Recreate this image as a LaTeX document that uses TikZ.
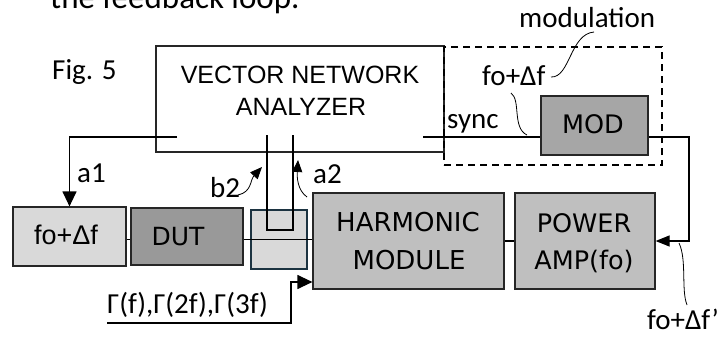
\documentclass[tikz,border=0pt]{standalone}
\usepackage{fontspec}
\setmainfont{Carlito}
\newfontfamily\boxfont{Liberation Sans}
\newfontfamily\wideboxfont{DejaVu Sans}
\usetikzlibrary{arrows.meta}
\definecolor{lightbox}{HTML}{D9D9D9}
\definecolor{midbox}{HTML}{BFBFBF}
\definecolor{modbox}{HTML}{A6A6A6}
\definecolor{dutbox}{HTML}{999999}
\definecolor{cplborder}{HTML}{1C3341}
\tikzset{
  blk/.style={draw=black!85, line width=1.2pt, inner sep=0pt},
  wire/.style={line width=1.2pt},
  leader/.style={line width=0.8pt},
  lbl/.style={inner sep=0pt, anchor=base west, font=\fontsize{29}{33}\selectfont},
  btxt/.style={inner sep=0pt, anchor=base, font=\boxfont\fontsize{26}{30}\selectfont},
  wtxt/.style={inner sep=0pt, anchor=base, font=\wideboxfont\fontsize{25.5}{30}\selectfont},
  bigtip/.style={-{Triangle[length=15pt,width=14pt]}},
  midtip/.style={-{Triangle[length=14pt,width=11pt]}},
  smalltip/.style={-{Triangle[length=12pt,width=10pt]}}
}
\begin{document}
\begin{tikzpicture}[x=1pt,y=-1pt]
\useasboundingbox (0,0) rectangle (728,337);
\clip (0,0) rectangle (728,337);

% top cut-off text
\node[inner sep=0pt, anchor=base west, font=\fontsize{33}{36}\selectfont] (top) at (50,9) {the feedback loop.};
\node[lbl] (fig) at (52,80) {Fig. 5};

% boxes
\node[blk, minimum width=288pt, minimum height=106pt] (vna) at (300,99) {};
\node[draw, dashed, dash pattern=on 7pt off 5pt, line width=1.4pt, minimum width=218pt, minimum height=118pt, inner sep=0pt] (modreg) at (553,106) {};
\node[blk, fill=modbox, minimum width=107pt, minimum height=59pt] (mod) at (594.5,125.5) {};
\node[blk, fill=lightbox, minimum width=113pt, minimum height=59pt] (src) at (69.5,236.5) {};
\node[blk, fill=dutbox, minimum width=112pt, minimum height=57pt] (dut) at (187,236.5) {};
\node[draw=cplborder, line width=2.5pt, fill=lightbox, minimum width=56pt, minimum height=59pt, inner sep=0pt] (cpl) at (279,239.5) {};
\node[blk, fill=midbox, minimum width=191pt, minimum height=96pt] (hm) at (408.5,241) {};
\node[blk, fill=midbox, minimum width=140pt, minimum height=96pt] (pa) at (585,241) {};

% box texts
\node[btxt, font=\boxfont\fontsize{25}{30}\selectfont] (vna1) at (300,84) {VECTOR NETWORK};
\node[btxt, font=\boxfont\fontsize{25}{30}\selectfont] (vna2) at (301,115) {ANALYZER};
\node[wtxt] (modt) at (593,133) {MOD};
\node[btxt, font=\boxfont\fontsize{27}{30}\selectfont] (srct) at (66,244) {fo+Δf};
\node[wtxt, font=\wideboxfont\fontsize{25}{30}\selectfont] (dutt) at (178,245) {DUT};
\node[wtxt, font=\wideboxfont\fontsize{26}{30}\selectfont] (hm1) at (408,231) {HARMONIC};
\node[wtxt, font=\wideboxfont\fontsize{26}{30}\selectfont] (hm2) at (409,269) {MODULE};
\node[wtxt] (pa1) at (584,232) {POWER};
\node[wtxt] (pa2) at (584,269) {AMP(fo)};

% coordinates
\coordinate (a1s) at (177,137);
\coordinate (s0) at (423,137);
\coordinate (r0) at (689,137);
\coordinate (u1) at (267,135);
\coordinate (u2) at (293,135);
\coordinate (g0) at (107,323);
\coordinate (g1) at (291,282);

% wires
\draw[wire, bigtip] (a1s) -| (src.north);
\draw[wire] (src.east |- cpl) -- (dut.west |- cpl);
\draw[wire] (dut.east |- cpl) -- (cpl -| hm.west);
\draw[wire] (u1) -- (267,230) -- (293,230) -- (u2);
\draw[wire] (hm.east) -- (pa.west);
\draw[wire] (s0) -- (s0 -| mod.west);
\draw[wire, midtip] (s0 -| mod.east) -- (r0) |- (pa.east);
\draw[wire, bigtip] (g0) -| (g1) -- (g1 -| hm.west);

% curved arrows
\draw[leader, smalltip] (238,195) .. controls (252,192) and (250,180) .. (262,167);
\draw[leader, smalltip] (307,197) .. controls (297,190) and (297,176) .. (298,160);

% labels
\node[lbl] (la1) at (77,182) {a1};
\node[lbl] (lb2) at (210,197) {b2};
\node[lbl] (la2) at (313,183) {a2};
\node[lbl] (lsync) at (447,128) {sync};
\node[lbl] (lfo) at (482,85) {fo+Δf};
\node[lbl] (lmodu) at (519,28) {modulation};
\node[lbl, anchor=base] (lfop) at (683,329) {fo+Δf’};
\node[lbl] (lgam) at (107,313) {Γ(f),Γ(2f),Γ(3f)};

% leaders
\draw[leader] (551,77) .. controls (570,78) and (570,34) .. (594,32);
\draw[leader] (511,93) .. controls (521,100) and (512,128) .. (527,135);
\draw[leader] (679,243) .. controls (687,260) and (681,290) .. (687,305);
\end{tikzpicture}
\end{document}
